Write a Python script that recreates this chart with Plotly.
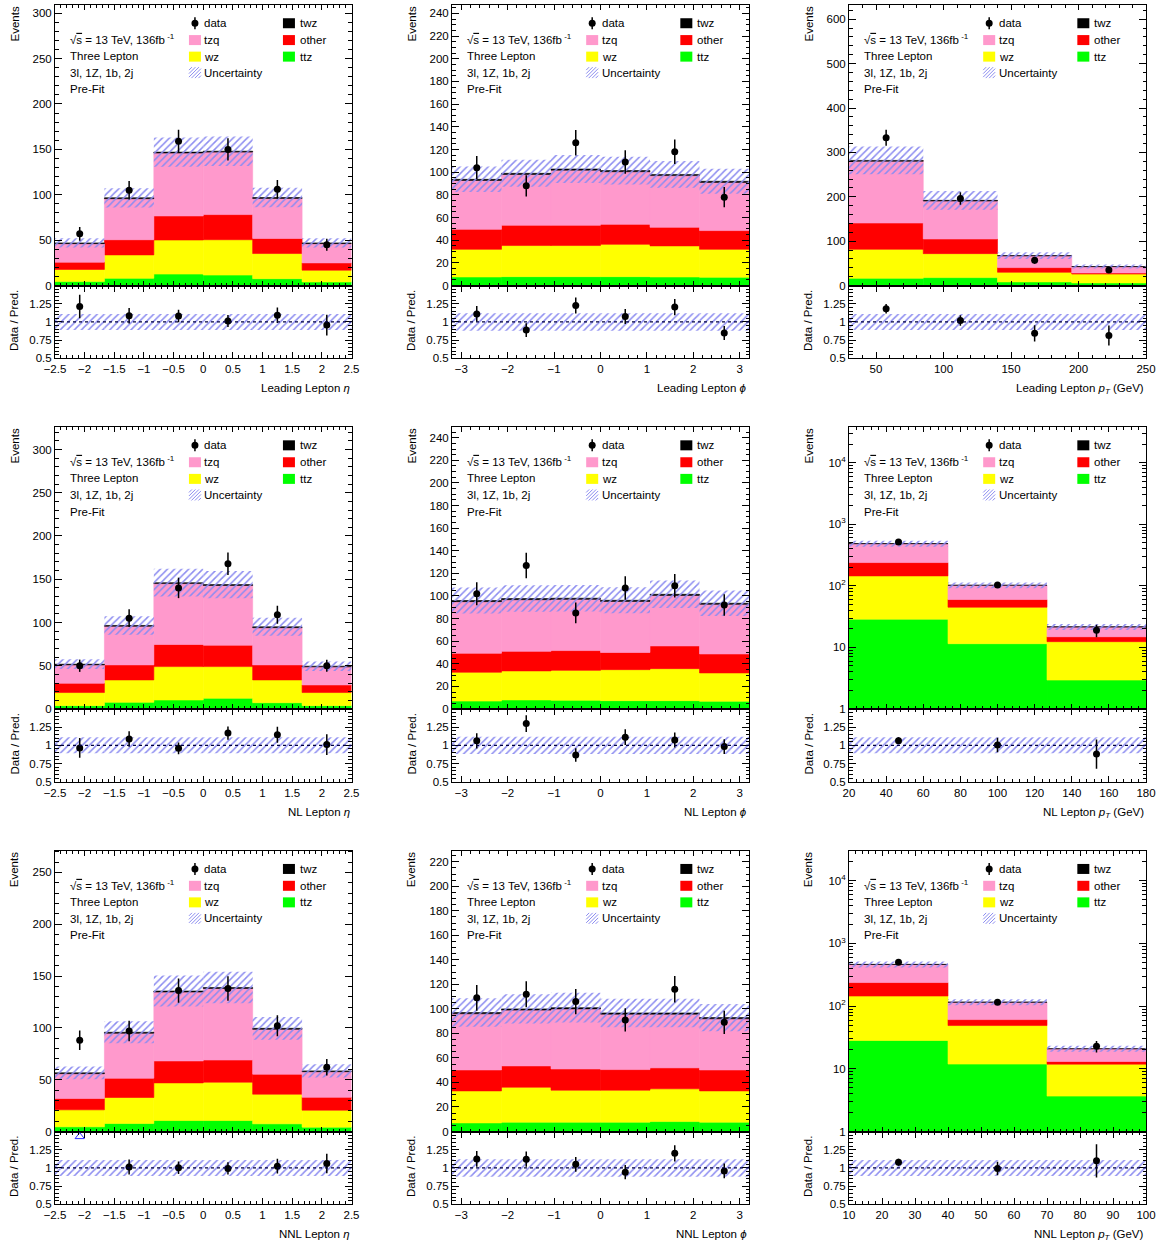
import math
import plotly.graph_objects as go

# ---------------- binning ----------------
eta_edges = [-2.5, -1.6667, -0.8333, 0.0, 0.8333, 1.6667, 2.5]
phi_edges = [-3.2, -2.1333, -1.0667, 0.0, 1.0667, 2.1333, 3.2]
lead_pt_edges = [30, 85, 140, 195, 250]
nl_pt_edges = [20, 73.33, 126.67, 180]
nnl_pt_edges = [10, 40, 70, 100]

# ---------------- Leading lepton eta ----------------
lead_eta_ttz = [4.4, 8.0, 12.7, 11.6, 7.6, 4.0]
lead_eta_wz = [13.4, 25.8, 37.5, 38.9, 27.7, 13.0]
lead_eta_other = [8.0, 16.7, 26.5, 27.7, 16.7, 8.0]
lead_eta_tzq = [20.4, 45.2, 69.3, 68.8, 44.0, 21.2]
lead_eta_twz = [0.8, 1.0, 1.0, 1.0, 1.0, 0.8]
lead_eta_data = [57, 105, 159, 150, 106, 45]
lead_eta_unc = [0.11, 0.11, 0.11, 0.11, 0.11, 0.11]

# ---------------- Leading lepton phi ----------------
lead_phi_ttz = [7.6, 7.9, 7.9, 7.9, 7.6, 7.3]
lead_phi_wz = [24.4, 27.4, 27.4, 28.5, 27.4, 24.7]
lead_phi_other = [17.6, 17.9, 17.9, 17.6, 16.4, 16.5]
lead_phi_tzq = [43.1, 44.8, 48.6, 46.4, 45.6, 42.5]
lead_phi_twz = [1.0, 1.0, 1.0, 1.0, 1.0, 1.0]
lead_phi_data = [104, 88, 126, 109, 118, 78]
lead_phi_unc = [0.12, 0.12, 0.12, 0.12, 0.12, 0.12]

# ---------------- Leading lepton pT ----------------
lead_pt_ttz = [16.5, 18.0, 8.3, 6.0]
lead_pt_wz = [65.3, 54.0, 21.7, 20.0]
lead_pt_other = [59.2, 33.0, 10.5, 2.5]
lead_pt_tzq = [139.0, 85.5, 26.5, 14.1]
lead_pt_twz = [2.0, 1.5, 0.6, 0.4]
lead_pt_data = [333, 196, 57, 35]
lead_pt_unc = [0.11, 0.11, 0.11, 0.11]

# ---------------- NL lepton eta ----------------
nl_eta_ttz = [3.9, 7.7, 10.4, 12.4, 7.3, 3.9]
nl_eta_wz = [15.1, 25.9, 38.6, 36.6, 26.3, 15.1]
nl_eta_other = [10.8, 17.4, 25.6, 24.8, 17.4, 8.8]
nl_eta_tzq = [21.2, 44.6, 70.4, 69.0, 43.0, 20.9]
nl_eta_twz = [0.8, 1.0, 1.0, 1.0, 1.0, 0.8]
nl_eta_data = [50, 105, 140, 168, 109, 50]
nl_eta_unc = [0.11, 0.11, 0.11, 0.11, 0.11, 0.11]

# ---------------- NL lepton phi ----------------
nl_phi_ttz = [7.0, 8.0, 7.7, 7.4, 7.4, 6.8]
nl_phi_wz = [25.5, 25.7, 26.5, 27.4, 28.3, 25.1]
nl_phi_other = [16.8, 17.3, 17.5, 15.2, 20.1, 16.8]
nl_phi_tzq = [45.7, 45.7, 45.3, 45.2, 44.7, 43.9]
nl_phi_twz = [1.0, 1.0, 1.0, 1.0, 1.0, 1.0]
nl_phi_data = [102, 127, 85, 107, 109, 92]
nl_phi_unc = [0.12, 0.12, 0.12, 0.12, 0.12, 0.12]

# ---------------- NL lepton pT ----------------
nl_pt_ttz = [28.8, 11.5, 2.95]
nl_pt_wz = [116.2, 33.5, 9.45]
nl_pt_other = [94.0, 15.0, 2.5]
nl_pt_tzq = [245.0, 42.0, 6.6]
nl_pt_twz = [2.0, 0.5, 0.1]
nl_pt_data = [517, 103, 19]
nl_pt_unc = [0.11, 0.11, 0.11]

# ---------------- NNL lepton eta ----------------
nnl_eta_ttz = [4.5, 7.7, 10.6, 10.6, 7.4, 4.2]
nnl_eta_wz = [16.4, 25.1, 36.3, 37.0, 28.6, 16.4]
nnl_eta_other = [10.9, 18.6, 21.2, 21.4, 19.3, 12.4]
nnl_eta_tzq = [24.0, 43.4, 66.5, 69.0, 43.3, 24.7]
nnl_eta_twz = [0.8, 1.0, 1.0, 1.0, 1.0, 0.8]
nnl_eta_data = [88, 97, 136, 138, 102, 62]
nnl_eta_unc = [0.11, 0.11, 0.11, 0.11, 0.11, 0.11]

# ---------------- NNL lepton phi ----------------
nnl_phi_ttz = [7.0, 7.6, 7.6, 7.6, 8.1, 7.6]
nnl_phi_wz = [26.1, 28.5, 26.1, 26.1, 26.7, 25.5]
nnl_phi_other = [17.1, 17.4, 17.3, 16.8, 17.1, 17.1]
nnl_phi_tzq = [45.8, 45.5, 49.0, 45.2, 43.8, 41.7]
nnl_phi_twz = [1.0, 1.0, 1.0, 1.0, 1.0, 1.0]
nnl_phi_data = [109, 112, 106, 91, 116, 89]
nnl_phi_unc = [0.12, 0.12, 0.12, 0.12, 0.12, 0.12]

# ---------------- NNL lepton pT ----------------
nnl_pt_ttz = [28.3, 11.9, 3.67]
nnl_pt_wz = [116.7, 37.1, 8.2]
nnl_pt_other = [93.0, 12.0, 1.2]
nnl_pt_tzq = [224.0, 54.5, 7.8]
nnl_pt_twz = [2.0, 0.5, 0.1]
nnl_pt_data = [500, 115, 23]
nnl_pt_unc = [0.11, 0.11, 0.11]

# ---------------- text ----------------
x_titles = [
    "Leading Lepton <i>η</i>", "Leading Lepton <i>ϕ</i>", "Leading Lepton <i>p</i><sub><i>T</i></sub> (GeV)",
    "NL Lepton <i>η</i>", "NL Lepton <i>ϕ</i>", "NL Lepton <i>p</i><sub><i>T</i></sub> (GeV)",
    "NNL Lepton <i>η</i>", "NNL Lepton <i>ϕ</i>", "NNL Lepton <i>p</i><sub><i>T</i></sub> (GeV)",
]
info_lines = ["√<span style='text-decoration:overline'>s</span> = 13 TeV, 136fb<sup> -1</sup>",
              "Three Lepton", "3l, 1Z, 1b, 2j", "Pre-Fit"]
log_tickvals = [1, 10, 100, 1000, 10000]
log_ticktext = ["1", "10", "10<sup>2</sup>", "10<sup>3</sup>", "10<sup>4</sup>"]
ratio_tickvals = [0.5, 0.75, 1, 1.25]
ratio_ticktext = ["0.5", "0.75", "1", "1.25"]

STACK_ORDER = ["ttz", "wz", "other", "tzq", "twz"]
COLORS = {"ttz": "#00ff00", "wz": "#ffff00", "other": "#ff0000", "tzq": "#ff99cc", "twz": "#000000"}
HATCH = "#8c8cf0"

panels = [
    dict(edges=eta_edges, ttz=lead_eta_ttz, wz=lead_eta_wz, other=lead_eta_other, tzq=lead_eta_tzq,
         twz=lead_eta_twz, data=lead_eta_data, unc=lead_eta_unc,
         xr=[-2.5, 2.5], xd=0.5, xm=0.1, yr=[0, 309], yd=50, ym=10, log=False),
    dict(edges=phi_edges, ttz=lead_phi_ttz, wz=lead_phi_wz, other=lead_phi_other, tzq=lead_phi_tzq,
         twz=lead_phi_twz, data=lead_phi_data, unc=lead_phi_unc,
         xr=[-3.2, 3.2], xd=1, xm=0.2, yr=[0, 247.4], yd=20, ym=5, log=False),
    dict(edges=lead_pt_edges, ttz=lead_pt_ttz, wz=lead_pt_wz, other=lead_pt_other, tzq=lead_pt_tzq,
         twz=lead_pt_twz, data=lead_pt_data, unc=lead_pt_unc,
         xr=[30, 250], xd=50, xm=10, yr=[0, 632], yd=100, ym=20, log=False),
    dict(edges=eta_edges, ttz=nl_eta_ttz, wz=nl_eta_wz, other=nl_eta_other, tzq=nl_eta_tzq,
         twz=nl_eta_twz, data=nl_eta_data, unc=nl_eta_unc,
         xr=[-2.5, 2.5], xd=0.5, xm=0.1, yr=[0, 326], yd=50, ym=10, log=False),
    dict(edges=phi_edges, ttz=nl_phi_ttz, wz=nl_phi_wz, other=nl_phi_other, tzq=nl_phi_tzq,
         twz=nl_phi_twz, data=nl_phi_data, unc=nl_phi_unc,
         xr=[-3.2, 3.2], xd=1, xm=0.2, yr=[0, 249.5], yd=20, ym=5, log=False),
    dict(edges=nl_pt_edges, ttz=nl_pt_ttz, wz=nl_pt_wz, other=nl_pt_other, tzq=nl_pt_tzq,
         twz=nl_pt_twz, data=nl_pt_data, unc=nl_pt_unc,
         xr=[20, 180], xd=20, xm=4, yr=[0, 4.58], yd=None, ym=None, log=True),
    dict(edges=eta_edges, ttz=nnl_eta_ttz, wz=nnl_eta_wz, other=nnl_eta_other, tzq=nnl_eta_tzq,
         twz=nnl_eta_twz, data=nnl_eta_data, unc=nnl_eta_unc,
         xr=[-2.5, 2.5], xd=0.5, xm=0.1, yr=[0, 271], yd=50, ym=10, log=False),
    dict(edges=phi_edges, ttz=nnl_phi_ttz, wz=nnl_phi_wz, other=nnl_phi_other, tzq=nnl_phi_tzq,
         twz=nnl_phi_twz, data=nnl_phi_data, unc=nnl_phi_unc,
         xr=[-3.2, 3.2], xd=1, xm=0.2, yr=[0, 229], yd=20, ym=5, log=False),
    dict(edges=nnl_pt_edges, ttz=nnl_pt_ttz, wz=nnl_pt_wz, other=nnl_pt_other, tzq=nnl_pt_tzq,
         twz=nnl_pt_twz, data=nnl_pt_data, unc=nnl_pt_unc,
         xr=[10, 100], xd=10, xm=2, yr=[0, 4.48], yd=None, ym=None, log=True),
]

# ---------------- layout geometry (pixels) ----------------
W, H = 1164, 1245
FONT = "Liberation Sans, Arial, Helvetica, sans-serif"
FS = 11.5
COLS = [(55, 351.5), (452, 749), (849, 1146)]
ROWS = [(5, 285.6, 358.3), (427, 709, 781.7), (850.7, 1131.5, 1204.3)]
RATIO_RANGE = [0.5, 1.5]
RATIO_ARROW_Y = 1.43

# legend / text positions inside main frame (domain fractions)
INFO_X = 0.045
INFO_Y = [0.878, 0.818, 0.758, 0.700]
LEG_ROWS = [0.935, 0.875, 0.816, 0.759]
LEG_COL1_BOX, LEG_COL1_TXT = 0.472, 0.497
LEG_COL2_BOX, LEG_COL2_TXT = 0.789, 0.818

fig = go.Figure()
shapes = []
annotations = []
layout = dict(width=W, height=H, margin=dict(l=0, r=0, t=0, b=0, autoexpand=False),
              plot_bgcolor="white", paper_bgcolor="white", showlegend=False,
              barmode="overlay", font=dict(family=FONT, size=FS, color="black"))


def axname(k):
    return "" if k == 1 else str(k)


def axis_common():
    return dict(showgrid=False, zeroline=False, showline=True, linecolor="black", linewidth=1,
                mirror="allticks", ticks="inside", tickcolor="black", tickwidth=1, automargin=False,
                tickfont=dict(family=FONT, size=FS, color="black"))


def hatch_lines(w, h, spacing):
    segs = []
    c = -w - h
    while c < w + h:
        xa = max(-w / 2, -h / 2 - c)
        xb = min(w / 2, h / 2 - c)
        if xb > xa + 0.5:
            segs.append((xa, xa + c, xb, xb + c))
        c += spacing
    return segs


for i, p in enumerate(panels):
    r, c = divmod(i, 3)
    km, kr = 2 * i + 1, 2 * i + 2
    xm_, ym_ = "x" + axname(km), "y" + axname(km)
    xr_, yr_ = "x" + axname(kr), "y" + axname(kr)
    x0p, x1p = COLS[c]
    topp, splitp, botp = ROWS[r]
    xdom = [x0p / W, x1p / W]
    main_dom = [1 - splitp / H, 1 - topp / H]
    ratio_dom = [1 - botp / H, 1 - splitp / H]

    edges = p["edges"]
    n = len(edges) - 1
    centers = [(edges[j] + edges[j + 1]) / 2 for j in range(n)]
    widths = [edges[j + 1] - edges[j] for j in range(n)]

    # stacked backgrounds
    cum = [0.0] * n
    for name in STACK_ORDER:
        vals = p[name]
        kw = {}
        if name != STACK_ORDER[0]:
            kw["base"] = list(cum)
        fig.add_trace(go.Bar(x=centers, y=vals, width=widths, xaxis=xm_, yaxis=ym_,
                             marker=dict(color=COLORS[name], line=dict(width=0.6, color=COLORS[name])),
                             hoverinfo="skip", **kw))
        cum = [a + b for a, b in zip(cum, vals)]
    total = cum
    unc = p["unc"]

    # uncertainty band (main)
    fig.add_trace(go.Bar(x=centers, y=[2 * t * u for t, u in zip(total, unc)],
                         base=[t * (1 - u) for t, u in zip(total, unc)], width=widths,
                         xaxis=xm_, yaxis=ym_, hoverinfo="skip",
                         marker=dict(color="rgba(0,0,0,0)", line=dict(width=0),
                                     pattern=dict(shape="/", fgcolor=HATCH, bgcolor="rgba(0,0,0,0)",
                                                  size=5, solidity=0.3, fillmode="replace"))))
    # data
    data = p["data"]
    derr = [math.sqrt(d) for d in data]
    fig.add_trace(go.Scatter(x=centers, y=data, mode="markers", xaxis=xm_, yaxis=ym_,
                             marker=dict(color="black", size=7),
                             error_y=dict(type="data", array=derr, width=0, thickness=1.5, color="black"),
                             hoverinfo="skip"))

    # ratio band
    fig.add_trace(go.Bar(x=centers, y=[2 * u for u in unc], base=[1 - u for u in unc], width=widths,
                         xaxis=xr_, yaxis=yr_, hoverinfo="skip",
                         marker=dict(color="rgba(0,0,0,0)", line=dict(width=0),
                                     pattern=dict(shape="/", fgcolor=HATCH, bgcolor="rgba(0,0,0,0)",
                                                  size=5, solidity=0.3, fillmode="replace"))))
    ratio = [d / t for d, t in zip(data, total)]
    rerr = [e / t for e, t in zip(derr, total)]
    inx = [cx for cx, rv in zip(centers, ratio) if rv <= RATIO_RANGE[1]]
    iny = [rv for rv in ratio if rv <= RATIO_RANGE[1]]
    ine = [e for e, rv in zip(rerr, ratio) if rv <= RATIO_RANGE[1]]
    fig.add_trace(go.Scatter(x=inx, y=iny, mode="markers", xaxis=xr_, yaxis=yr_,
                             marker=dict(color="black", size=7),
                             error_y=dict(type="data", array=ine, width=0, thickness=1.5, color="black"),
                             hoverinfo="skip"))
    outx = [cx for cx, rv in zip(centers, ratio) if rv > RATIO_RANGE[1]]
    if outx:
        fig.add_trace(go.Scatter(x=outx, y=[RATIO_ARROW_Y] * len(outx), mode="markers",
                                 xaxis=xr_, yaxis=yr_, hoverinfo="skip",
                                 marker=dict(symbol="triangle-up-open", color="#3030ff", size=8,
                                             line=dict(width=1))))
    shapes.append(dict(type="line", xref=xr_ + " domain", yref=yr_, x0=0, x1=1, y0=1, y1=1,
                       line=dict(color="#000040", width=1.2, dash="dot"), layer="above"))

    # axes
    ax = axis_common()
    ax.update(domain=xdom, anchor=ym_, range=p["xr"], dtick=p["xd"], tick0=0, ticklen=5,
              showticklabels=False,
              minor=dict(ticks="inside", ticklen=3, dtick=p["xm"], tick0=0, tickcolor="black", showgrid=False))
    layout["xaxis" + axname(km)] = ax

    ay = axis_common()
    ay.update(domain=main_dom, anchor=xm_, ticklen=7)
    if p["log"]:
        ay.update(type="log", range=p["yr"], tickvals=log_tickvals, ticktext=log_ticktext,
                  minor=dict(ticks="inside", ticklen=4, dtick="D1", tickcolor="black", showgrid=False))
    else:
        ay.update(range=p["yr"], dtick=p["yd"], tick0=0,
                  minor=dict(ticks="inside", ticklen=3.5, dtick=p["ym"], tick0=0, tickcolor="black", showgrid=False))
    layout["yaxis" + axname(km)] = ay

    rx = axis_common()
    rx.update(domain=xdom, anchor=yr_, range=p["xr"], dtick=p["xd"], tick0=0, ticklen=6,
              minor=dict(ticks="inside", ticklen=3, dtick=p["xm"], tick0=0, tickcolor="black", showgrid=False))
    layout["xaxis" + axname(kr)] = rx

    ry = axis_common()
    ry.update(domain=ratio_dom, anchor=xr_, range=RATIO_RANGE, tickvals=ratio_tickvals,
              ticktext=ratio_ticktext, ticklen=7,
              minor=dict(ticks="inside", ticklen=3.5, dtick=0.05, tick0=0, tickcolor="black", showgrid=False))
    layout["yaxis" + axname(kr)] = ry

    mxd, myd = xm_ + " domain", ym_ + " domain"
    # info text
    for line, yy in zip(info_lines, INFO_Y):
        annotations.append(dict(text=line, xref=mxd, yref=myd, x=INFO_X, y=yy, xanchor="left",
                                yanchor="middle", showarrow=False, font=dict(size=FS)))
    # legend
    leg1 = [("data", None), ("tzq", COLORS["tzq"]), ("wz", COLORS["wz"]), ("Uncertainty", "hatch")]
    leg2 = [("twz", COLORS["twz"]), ("other", COLORS["other"]), ("ttz", COLORS["ttz"])]
    for (lab, col), yy in zip(leg1, LEG_ROWS):
        annotations.append(dict(text=lab, xref=mxd, yref=myd, x=LEG_COL1_TXT, y=yy, xanchor="left",
                                yanchor="middle", showarrow=False, font=dict(size=FS)))
        if col is None:
            shapes.append(dict(type="line", xref=mxd, yref=myd, xsizemode="pixel", ysizemode="pixel",
                               xanchor=LEG_COL1_BOX, yanchor=yy, x0=0, x1=0, y0=-6, y1=6,
                               line=dict(color="black", width=1.5)))
            shapes.append(dict(type="circle", xref=mxd, yref=myd, xsizemode="pixel", ysizemode="pixel",
                               xanchor=LEG_COL1_BOX, yanchor=yy, x0=-3.5, x1=3.5, y0=-3.5, y1=3.5,
                               fillcolor="black", line=dict(width=0)))
        elif col == "hatch":
            for (ax0, ay0, ax1, ay1) in hatch_lines(12, 11, 3.5):
                shapes.append(dict(type="line", xref=mxd, yref=myd, xsizemode="pixel", ysizemode="pixel",
                                   xanchor=LEG_COL1_BOX, yanchor=yy, x0=ax0, y0=ay0, x1=ax1, y1=ay1,
                                   line=dict(color=HATCH, width=1)))
        else:
            shapes.append(dict(type="rect", xref=mxd, yref=myd, xsizemode="pixel", ysizemode="pixel",
                               xanchor=LEG_COL1_BOX, yanchor=yy, x0=-6, x1=6, y0=-5, y1=5,
                               fillcolor=col, line=dict(width=0)))
    for (lab, col), yy in zip(leg2, LEG_ROWS):
        annotations.append(dict(text=lab, xref=mxd, yref=myd, x=LEG_COL2_TXT, y=yy, xanchor="left",
                                yanchor="middle", showarrow=False, font=dict(size=FS)))
        shapes.append(dict(type="rect", xref=mxd, yref=myd, xsizemode="pixel", ysizemode="pixel",
                           xanchor=LEG_COL2_BOX, yanchor=yy, x0=-6, x1=6, y0=-5, y1=5,
                           fillcolor=col, line=dict(width=0)))

    # axis titles
    annotations.append(dict(text="Events", xref=mxd, yref=myd, x=0, y=1, xshift=-41, xanchor="center",
                            yanchor="top", textangle=-90, showarrow=False, font=dict(size=FS)))
    annotations.append(dict(text="Data / Pred.", xref=xr_ + " domain", yref=yr_ + " domain", x=0, y=1,
                            xshift=-41, yshift=-3, xanchor="center", yanchor="top", textangle=-90,
                            showarrow=False, font=dict(size=FS)))
    annotations.append(dict(text=x_titles[i], xref=xr_ + " domain", yref=yr_ + " domain", x=1, y=0,
                            yshift=-22, xanchor="right", yanchor="top", showarrow=False,
                            font=dict(size=FS)))

layout["shapes"] = shapes
layout["annotations"] = annotations
fig.update_layout(**layout)
# the page's default 8px body margin would shift the whole 1164x1245 figure; remove it
fig.write_html("out.html", config={"displayModeBar": False},
               post_script="document.body.style.margin='0';document.body.style.overflow='hidden';")
